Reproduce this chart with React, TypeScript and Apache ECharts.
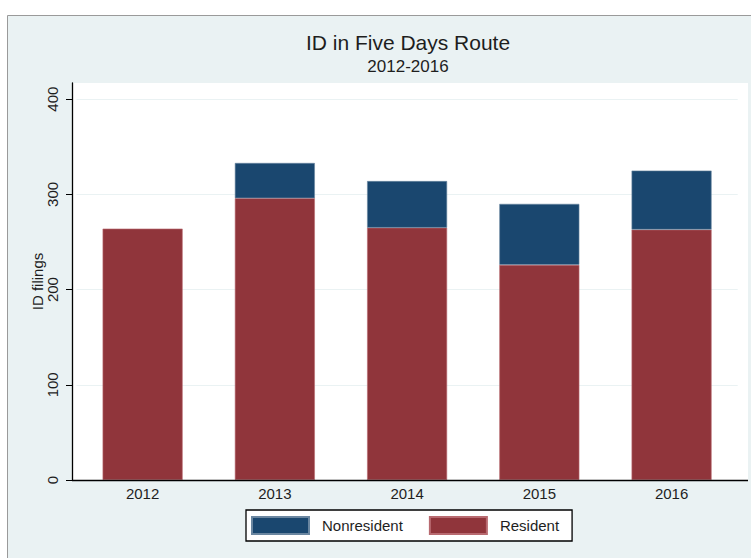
import React, { useEffect, useRef } from "react";
import * as echarts from "echarts";

const categories = ["2012", "2013", "2014", "2015", "2016"];
const resident = [264, 296, 265, 226, 263];
const nonresident = [0, 37, 49, 64, 62];
const yTicks = [0, 100, 200, 300, 400];

const FONT = "'Liberation Sans', Arial, sans-serif";
const TXT = "#1e1e1e";

export default function App() {
  const ref = useRef<HTMLDivElement>(null);
  useEffect(() => {
    const chart = echarts.init(ref.current!, null, { renderer: "svg" });
    chart.setOption({
      animation: false,
      backgroundColor: "#ffffff",
      textStyle: { fontFamily: FONT },
      title: {
        text: "ID in Five Days Route",
        subtext: "2012-2016",
        left: 408,
        textAlign: "center",
        top: 32,
        itemGap: 5,
        padding: 0,
        textStyle: { fontSize: 21, fontWeight: "normal", color: TXT, fontFamily: FONT },
        subtextStyle: { fontSize: 17, color: TXT, fontFamily: FONT },
      },
      graphic: [
        {
          type: "rect",
          z: -10,
          shape: { x: 7.5, y: 15.5, width: 800, height: 600 },
          style: { fill: "#eaf2f3", stroke: "#9a9a9a", lineWidth: 1 },
          silent: true,
        },
        {
          type: "rect",
          z: -9,
          shape: { x: 72, y: 83, width: 676, height: 397 },
          style: { fill: "#ffffff" },
          silent: true,
        },
        {
          type: "line",
          z: 10,
          shape: { x1: 72, y1: 480.5, x2: 748, y2: 480.5 },
          style: { stroke: "#000000", lineWidth: 1.3 },
          silent: true,
        },
      ],
      legend: {
        data: ["Nonresident", "Resident"],
        left: 246,
        top: 510,
        orient: "horizontal",
        itemWidth: 57,
        itemHeight: 17,
        itemGap: 26,
        padding: [6, 13, 6, 5],
        borderColor: "#000000",
        borderWidth: 1.3,
        backgroundColor: "#ffffff",
        borderRadius: 0,
        icon: "rect",
        textStyle: { fontSize: 15, color: TXT, fontFamily: FONT, padding: [0, 0, 0, 8] },
      },
      grid: { left: 76.5, right: 13.3, top: 83, bottom: 78, containLabel: false },
      xAxis: {
        type: "category",
        data: categories,
        axisLine: { show: false },
        axisTick: { show: false },
        axisLabel: { fontSize: 15, color: TXT, margin: 6, fontFamily: FONT },
        splitLine: { show: false },
      },
      yAxis: {
        type: "value",
        min: 0,
        max: 417,
        interval: 100,
        offset: 4.5,
        name: "ID filings",
        nameLocation: "middle",
        nameGap: 27,
        nameMoveOverlap: false,
        nameRotate: 90,
        nameTextStyle: { fontSize: 15, color: TXT, fontFamily: FONT },
        axisLine: { show: true, lineStyle: { color: "#000000", width: 1.3 } },
        axisTick: { show: true, length: 6, customValues: yTicks, lineStyle: { color: "#000000" } },
        axisLabel: {
          fontSize: 15,
          color: TXT,
          rotate: 90,
          margin: 12,
          fontFamily: FONT,
          customValues: yTicks,
        },
        splitLine: { show: true, lineStyle: { color: "#eaf2f3", width: 1 } },
      },
      series: [
        {
          name: "Resident",
          type: "bar",
          stack: "total",
          data: resident,
          barWidth: 80,
          itemStyle: { color: "#90353b", borderColor: "#b86a70", borderWidth: 0.6 },
        },
        {
          name: "Nonresident",
          type: "bar",
          stack: "total",
          data: nonresident.map((v) => (v === 0 ? null : v)),
          barWidth: 80,
          itemStyle: { color: "#1a476f", borderColor: "#6a86a0", borderWidth: 0.6 },
        },
      ],
    });
    return () => chart.dispose();
  }, []);
  return (
    <div
      ref={ref}
      style={{ position: "fixed", left: 0, top: 0, width: 751, height: 558 }}
    />
  );
}
